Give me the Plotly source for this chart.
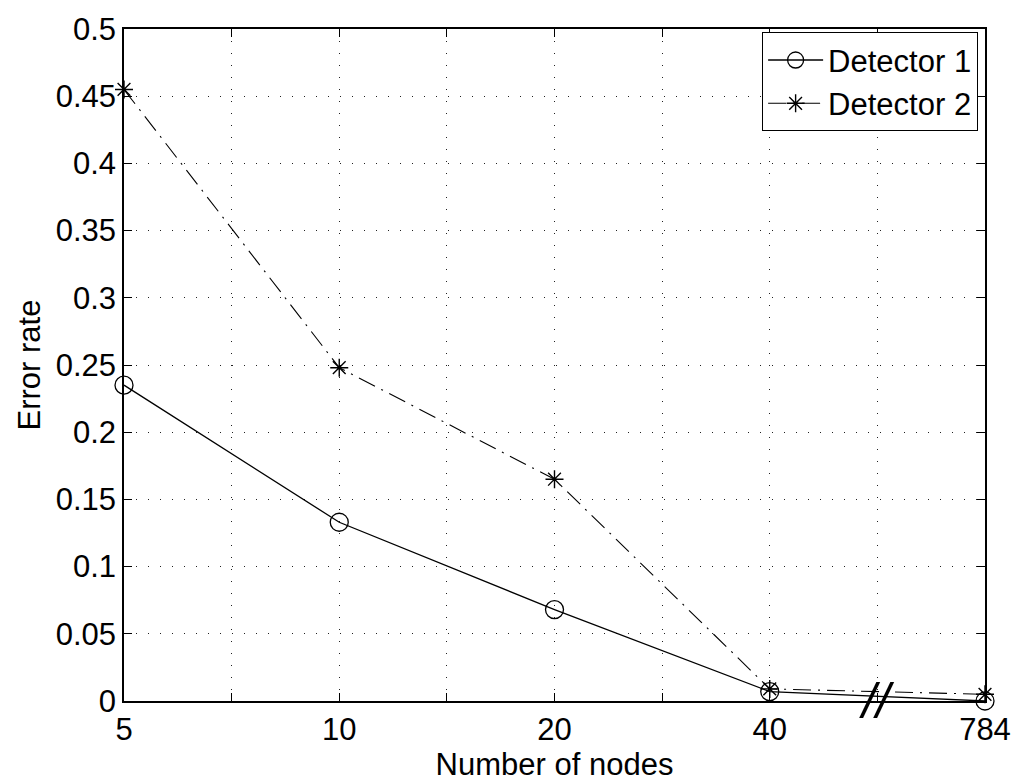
import plotly.graph_objects as go

x_labels = ["5", "10", "20", "40", "784"]
x_pos = [1, 2, 3, 4, 5]
det1 = [0.235, 0.133, 0.068, 0.007, 0.0]
det2 = [0.455, 0.248, 0.165, 0.009, 0.005]
y_ticks = [round(i * 0.05, 2) for i in range(11)]
y_ticktext = ["0", "0.05", "0.1", "0.15", "0.2", "0.25", "0.3", "0.35", "0.4", "0.45", "0.5"]

FONT = "Liberation Sans, Arial, sans-serif"
FS = 31

fig = go.Figure()
fig.add_trace(go.Scatter(
    x=x_pos, y=det1, name="Detector 1", mode="lines+markers",
    line=dict(color="black", width=1.3, dash="solid"),
    marker=dict(symbol="circle-open", size=18, color="black", line=dict(width=1.3)),
    cliponaxis=False,
))
fig.add_trace(go.Scatter(
    x=x_pos, y=det2, name="Detector 2", mode="lines+markers",
    line=dict(color="black", width=1.1, dash="18px,7px,2px,7px"),
    marker=dict(symbol="asterisk-open", size=15, color="black", line=dict(width=1.4, color="black")),
    cliponaxis=False,
))

xt = [1 + 0.5 * i for i in range(9)]
xtt = [x_labels[int(v) - 1] if v == int(v) else "" for v in xt]

grid = dict(showgrid=True, gridcolor="#222", griddash="1px,11px", gridwidth=1.2)

fig.update_xaxes(
    range=[1, 5], tickmode="array", tickvals=xt, ticktext=xtt,
    ticks="inside", ticklen=8, tickcolor="black", tickwidth=1,
    showline=True, linecolor="black", linewidth=1.5, mirror="ticks",
    zeroline=False, **grid,
    title=dict(text="Number of nodes", font=dict(size=FS, family=FONT, color="black"), standoff=2),
    tickfont=dict(size=FS, family=FONT, color="black"),
)
fig.update_yaxes(
    range=[0, 0.5], tickmode="array", tickvals=y_ticks, ticktext=y_ticktext,
    ticks="inside", ticklen=8, tickcolor="black", tickwidth=1,
    showline=True, linecolor="black", linewidth=1.5, mirror="ticks",
    zeroline=False, **grid,
    title=dict(text="Error rate", font=dict(size=FS, family=FONT, color="black"), standoff=6),
    tickfont=dict(size=FS, family=FONT, color="black"),
)

fig.add_annotation(x=4.5, y=0, xref="x", yref="y", text="<i>//</i>", showarrow=False,
                   font=dict(size=50, family=FONT, color="black"), bgcolor="rgba(0,0,0,0)")

fig.update_layout(
    width=1023, height=783,
    margin=dict(l=124, r=30, t=19, b=80),
    paper_bgcolor="white", plot_bgcolor="white",
    font=dict(family=FONT, color="black", size=FS),
    legend=dict(x=0.992, y=0.995, xanchor="right", yanchor="top",
                bgcolor="white", bordercolor="black", borderwidth=1,
                font=dict(size=FS, family=FONT, color="black"),
                itemwidth=55, tracegroupgap=0),
    showlegend=True,
)

fig.write_html("out.html")
